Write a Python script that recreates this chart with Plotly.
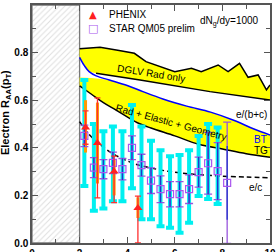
import plotly.graph_objects as go

# ---------------- data ----------------
# excluded low-pT region
excl_x = [0.0, 2.0]
excl_y = [0.0, 1.0]

# DGLV Rad only band (upper jagged edge, lower edge)
dglv_top_x = [2.0, 2.86, 3.6, 4.3, 4.79, 5.0, 6.0, 6.7, 7.11, 7.82, 8.24, 8.72, 9.08, 9.5, 9.85, 10.0]
dglv_top_y = [0.816, 0.822, 0.81, 0.797, 0.762, 0.755, 0.72, 0.734, 0.72, 0.748, 0.72, 0.755, 0.696, 0.706, 0.643, 0.664]
dglv_bot_x = [2.69, 4.54, 7.48, 10.0]
dglv_bot_y = [0.713, 0.685, 0.636, 0.601]

# Rad + Elastic + Geometry : BT curve e/(b+c) (blue) and TG curve (black)
bt_x = [2.0, 2.2, 2.4, 2.7, 3.25, 4.0, 4.66, 5.5, 6.5, 7.5, 8.5, 9.3, 10.0]
bt_y = [0.78, 0.745, 0.72, 0.702, 0.685, 0.662, 0.636, 0.605, 0.575, 0.55, 0.515, 0.48, 0.454]
band2_left_x = [2.0, 2.5, 3.0]
band2_left_y = [0.695, 0.693, 0.688]
tg_x = [2.0, 2.5, 3.0, 3.5, 4.0, 4.5, 5.0, 6.0, 7.0, 8.0, 9.0, 10.0]
tg_y = [0.66, 0.625, 0.59, 0.56, 0.53, 0.502, 0.483, 0.45, 0.415, 0.395, 0.375, 0.36]

# e/c dashed curve
ec_x = [2.0, 2.3, 2.72, 3.4, 4.2, 5.0, 6.0, 7.0, 8.0, 9.0, 10.0]
ec_y = [0.51, 0.468, 0.425, 0.375, 0.337, 0.315, 0.297, 0.287, 0.281, 0.277, 0.274]

# STAR QM05 prelim
star_x = [2.2, 2.6, 3.0, 3.4, 3.8, 4.2, 4.6, 5.0, 5.4, 5.8, 6.2, 6.6, 7.0, 7.4, 7.8, 8.2]
star_y = [0.45, 0.317, 0.31, 0.337, 0.31, 0.40, 0.327, 0.262, 0.226, 0.205, 0.205, 0.226, 0.298, 0.335, 0.302, 0.253]
star_stat = [0.045, 0.042, 0.04, 0.045, 0.045, 0.05, 0.046, 0.054, 0.056, 0.053, 0.053, 0.06, 0.063, 0.13, 0.12, 0.155]
star_stat_outer = [0.045, 0.042, 0.04, 0.045, 0.045, 0.05, 0.046, 0.054, 0.056, 0.053, 0.053, 0.06, 0.063, 0.13, 0.12, 0.255]
star_sys_top = [0.685, 0.50, 0.47, 0.49, 0.47, 0.58, 0.49, 0.43, 0.39, 0.365, 0.37, 0.39, 0.45, 0.50, 0.485]
star_sys_bot = [0.24, 0.135, 0.145, 0.175, 0.175, 0.23, 0.10, 0.10, 0.07, 0.064, 0.043, 0.085, 0.197, 0.185, 0.164]

# PHENIX
phx_x = [2.25, 2.75, 3.45, 4.45]
phx_y = [0.485, 0.42, 0.30, 0.147]
phx_stat_up = [0.07, 0.19, 0.065, 0.05]
phx_stat_dn = [0.07, 0.23, 0.13, 0.147]
phx_sys_up = [0.115, 0.17, 0.05, 0.045]
phx_sys_dn = [0.105, 0.17, 0.10, 0.042]

FONT = "Liberation Sans, Arial, sans-serif"
AX = "#555555"

fig = go.Figure()

# hatched excluded region
fig.add_trace(go.Scatter(
    x=[excl_x[0], excl_x[1], excl_x[1], excl_x[0], excl_x[0]],
    y=[excl_y[0], excl_y[0], excl_y[1], excl_y[1], excl_y[0]],
    mode="lines", fill="toself", fillcolor="white",
    fillpattern=dict(shape="/", fgcolor="#bdbdbd", bgcolor="white", size=4, solidity=0.25),
    line=dict(color="#777777", width=1.3), hoverinfo="skip", showlegend=False))

# band 1 polygon
bt_left = [(x, y) for x, y in zip(bt_x, bt_y) if x < dglv_bot_x[0]]
b1x = dglv_top_x + dglv_bot_x[::-1] + [p[0] for p in bt_left][::-1]
b1y = dglv_top_y + dglv_bot_y[::-1] + [p[1] for p in bt_left][::-1]
fig.add_trace(go.Scatter(x=b1x, y=b1y, mode="none", fill="toself", fillcolor="#ffff00",
                         hoverinfo="skip", showlegend=False))

# band 2 polygon
bt_right = [(x, y) for x, y in zip(bt_x, bt_y) if x > band2_left_x[-1]]
b2x = band2_left_x + [p[0] for p in bt_right] + tg_x[::-1]
b2y = band2_left_y + [p[1] for p in bt_right] + tg_y[::-1]
fig.add_trace(go.Scatter(x=b2x, y=b2y, mode="none", fill="toself", fillcolor="#ffff00",
                         hoverinfo="skip", showlegend=False))

# curves
fig.add_trace(go.Scatter(x=dglv_top_x, y=dglv_top_y, mode="lines",
                         line=dict(color="black", width=1.5), showlegend=False))
fig.add_trace(go.Scatter(x=dglv_bot_x, y=dglv_bot_y, mode="lines",
                         line=dict(color="black", width=1.5), showlegend=False))
fig.add_trace(go.Scatter(x=tg_x, y=tg_y, mode="lines", line_shape="spline",
                         line=dict(color="black", width=1.5), showlegend=False))
fig.add_trace(go.Scatter(x=bt_x, y=bt_y, mode="lines", line_shape="spline",
                         line=dict(color="#0000ff", width=1.5), showlegend=False))
fig.add_trace(go.Scatter(x=ec_x, y=ec_y, mode="lines", line_shape="spline",
                         line=dict(color="black", width=1.5, dash="5px,3px"), showlegend=False))

# STAR systematic bars (cyan)
n = len(star_sys_top)
fig.add_trace(go.Scatter(
    x=star_x[:n], y=star_y[:n], mode="markers", marker=dict(size=1, opacity=0),
    error_y=dict(type="data", symmetric=False,
                 array=[t - y for t, y in zip(star_sys_top, star_y[:n])],
                 arrayminus=[y - b for b, y in zip(star_sys_bot, star_y[:n])],
                 color="#00f0f0", thickness=4, width=4),
    showlegend=False, hoverinfo="skip"))

# PHENIX systematic bars (orange)
fig.add_trace(go.Scatter(
    x=phx_x, y=phx_y, mode="markers", marker=dict(size=1, opacity=0),
    error_y=dict(type="data", symmetric=False, array=phx_sys_up, arrayminus=phx_sys_dn,
                 color="#ff9900", thickness=3, width=0),
    showlegend=False, hoverinfo="skip"))

# STAR stat (violet caps + blue line)
fig.add_trace(go.Scatter(
    x=star_x, y=star_y, mode="markers", marker=dict(size=1, opacity=0),
    error_y=dict(type="data", array=star_stat_outer, color="#9955dd", thickness=1.3, width=4),
    showlegend=False, hoverinfo="skip"))
fig.add_trace(go.Scatter(
    x=star_x, y=star_y, mode="markers",
    marker=dict(symbol="square-open", size=7, color="#aa55ee", line=dict(width=1.2)),
    error_y=dict(type="data", array=star_stat, color="#2233cc", thickness=1.3, width=0),
    showlegend=False, hoverinfo="skip"))

# PHENIX stat + markers
fig.add_trace(go.Scatter(
    x=phx_x, y=phx_y, mode="markers",
    marker=dict(symbol="triangle-up", size=8, color="#ff2020"),
    error_y=dict(type="data", symmetric=False, array=phx_stat_up, arrayminus=phx_stat_dn,
                 color="#ff3030", thickness=1.3, width=3),
    showlegend=False, hoverinfo="skip"))

# ---------------- text ----------------
ann = []
def txt(x, y, s, size=10, color="black", angle=0, xref="x", yref="y", family=FONT, xanchor="center", weight="normal"):
    ann.append(dict(x=x, y=y, xref=xref, yref=yref, text=s, showarrow=False, textangle=angle,
                    font=dict(family=family, size=size, color=color, weight=weight),
                    xanchor=xanchor, yanchor="middle"))

txt(5.04, 0.714, "DGLV Rad only", angle=9)
txt(5.88, 0.508, "Rad + Elastic + Geometry", angle=15)
txt(9.24, 0.542, "e/(b+c)")
txt(9.62, 0.433, "BT", color="#0000ff")
txt(9.62, 0.387, "TG")
txt(9.37, 0.235, "e/c")
txt(8.28, 0.929, "dN<sub>g</sub>/dy=1000")
# legend
txt(0.256, 0.958, "\u25B2", size=10, color="#ff2020", xref="paper", yref="paper", family="DejaVu Sans")
txt(0.256, 0.903, "\u25A1", size=11, color="#aa55ee", xref="paper", yref="paper", family="DejaVu Sans")
txt(0.315, 0.958, "PHENIX", xref="paper", yref="paper", xanchor="left")
txt(0.315, 0.903, "STAR QM05 prelim", xref="paper", yref="paper", xanchor="left")
# y title
txt(-0.109, 0.546, "Electron R<sub>AA</sub>(p<sub>T</sub>)", size=11, angle=-90,
    xref="paper", yref="paper", weight="bold")

axis_common = dict(showline=True, linecolor=AX, linewidth=1.5, mirror="ticks", ticks="inside",
                   ticklen=6, tickwidth=1.2, tickcolor=AX, showgrid=False, zeroline=False,
                   automargin=False,
                   tickfont=dict(family=FONT, size=10, color="black", weight="bold"))

fig.update_layout(
    width=276, height=252,
    margin=dict(l=32, r=6, t=5, b=9, autoexpand=False),
    paper_bgcolor="white", plot_bgcolor="white",
    showlegend=False,
    annotations=ann,
    xaxis=dict(range=[0, 10], dtick=2, tick0=0,
               minor=dict(dtick=1, ticks="inside", ticklen=4, tickcolor=AX, tickwidth=1.2),
               **axis_common),
    yaxis=dict(range=[0, 1], dtick=0.2, tick0=0, tickformat=".1f",
               minor=dict(dtick=0.1, ticks="inside", ticklen=4, tickcolor=AX, tickwidth=1.2),
               **axis_common),
)

fig.write_html("out.html", config={"displayModeBar": False})
# remove default page margin so the figure sits at the window's top-left corner
with open("out.html", encoding="utf-8") as f:
    html = f.read()
html = html.replace("<head>", "<head><style>html,body{margin:0;padding:0;overflow:hidden;}</style>", 1)
with open("out.html", "w", encoding="utf-8") as f:
    f.write(html)
